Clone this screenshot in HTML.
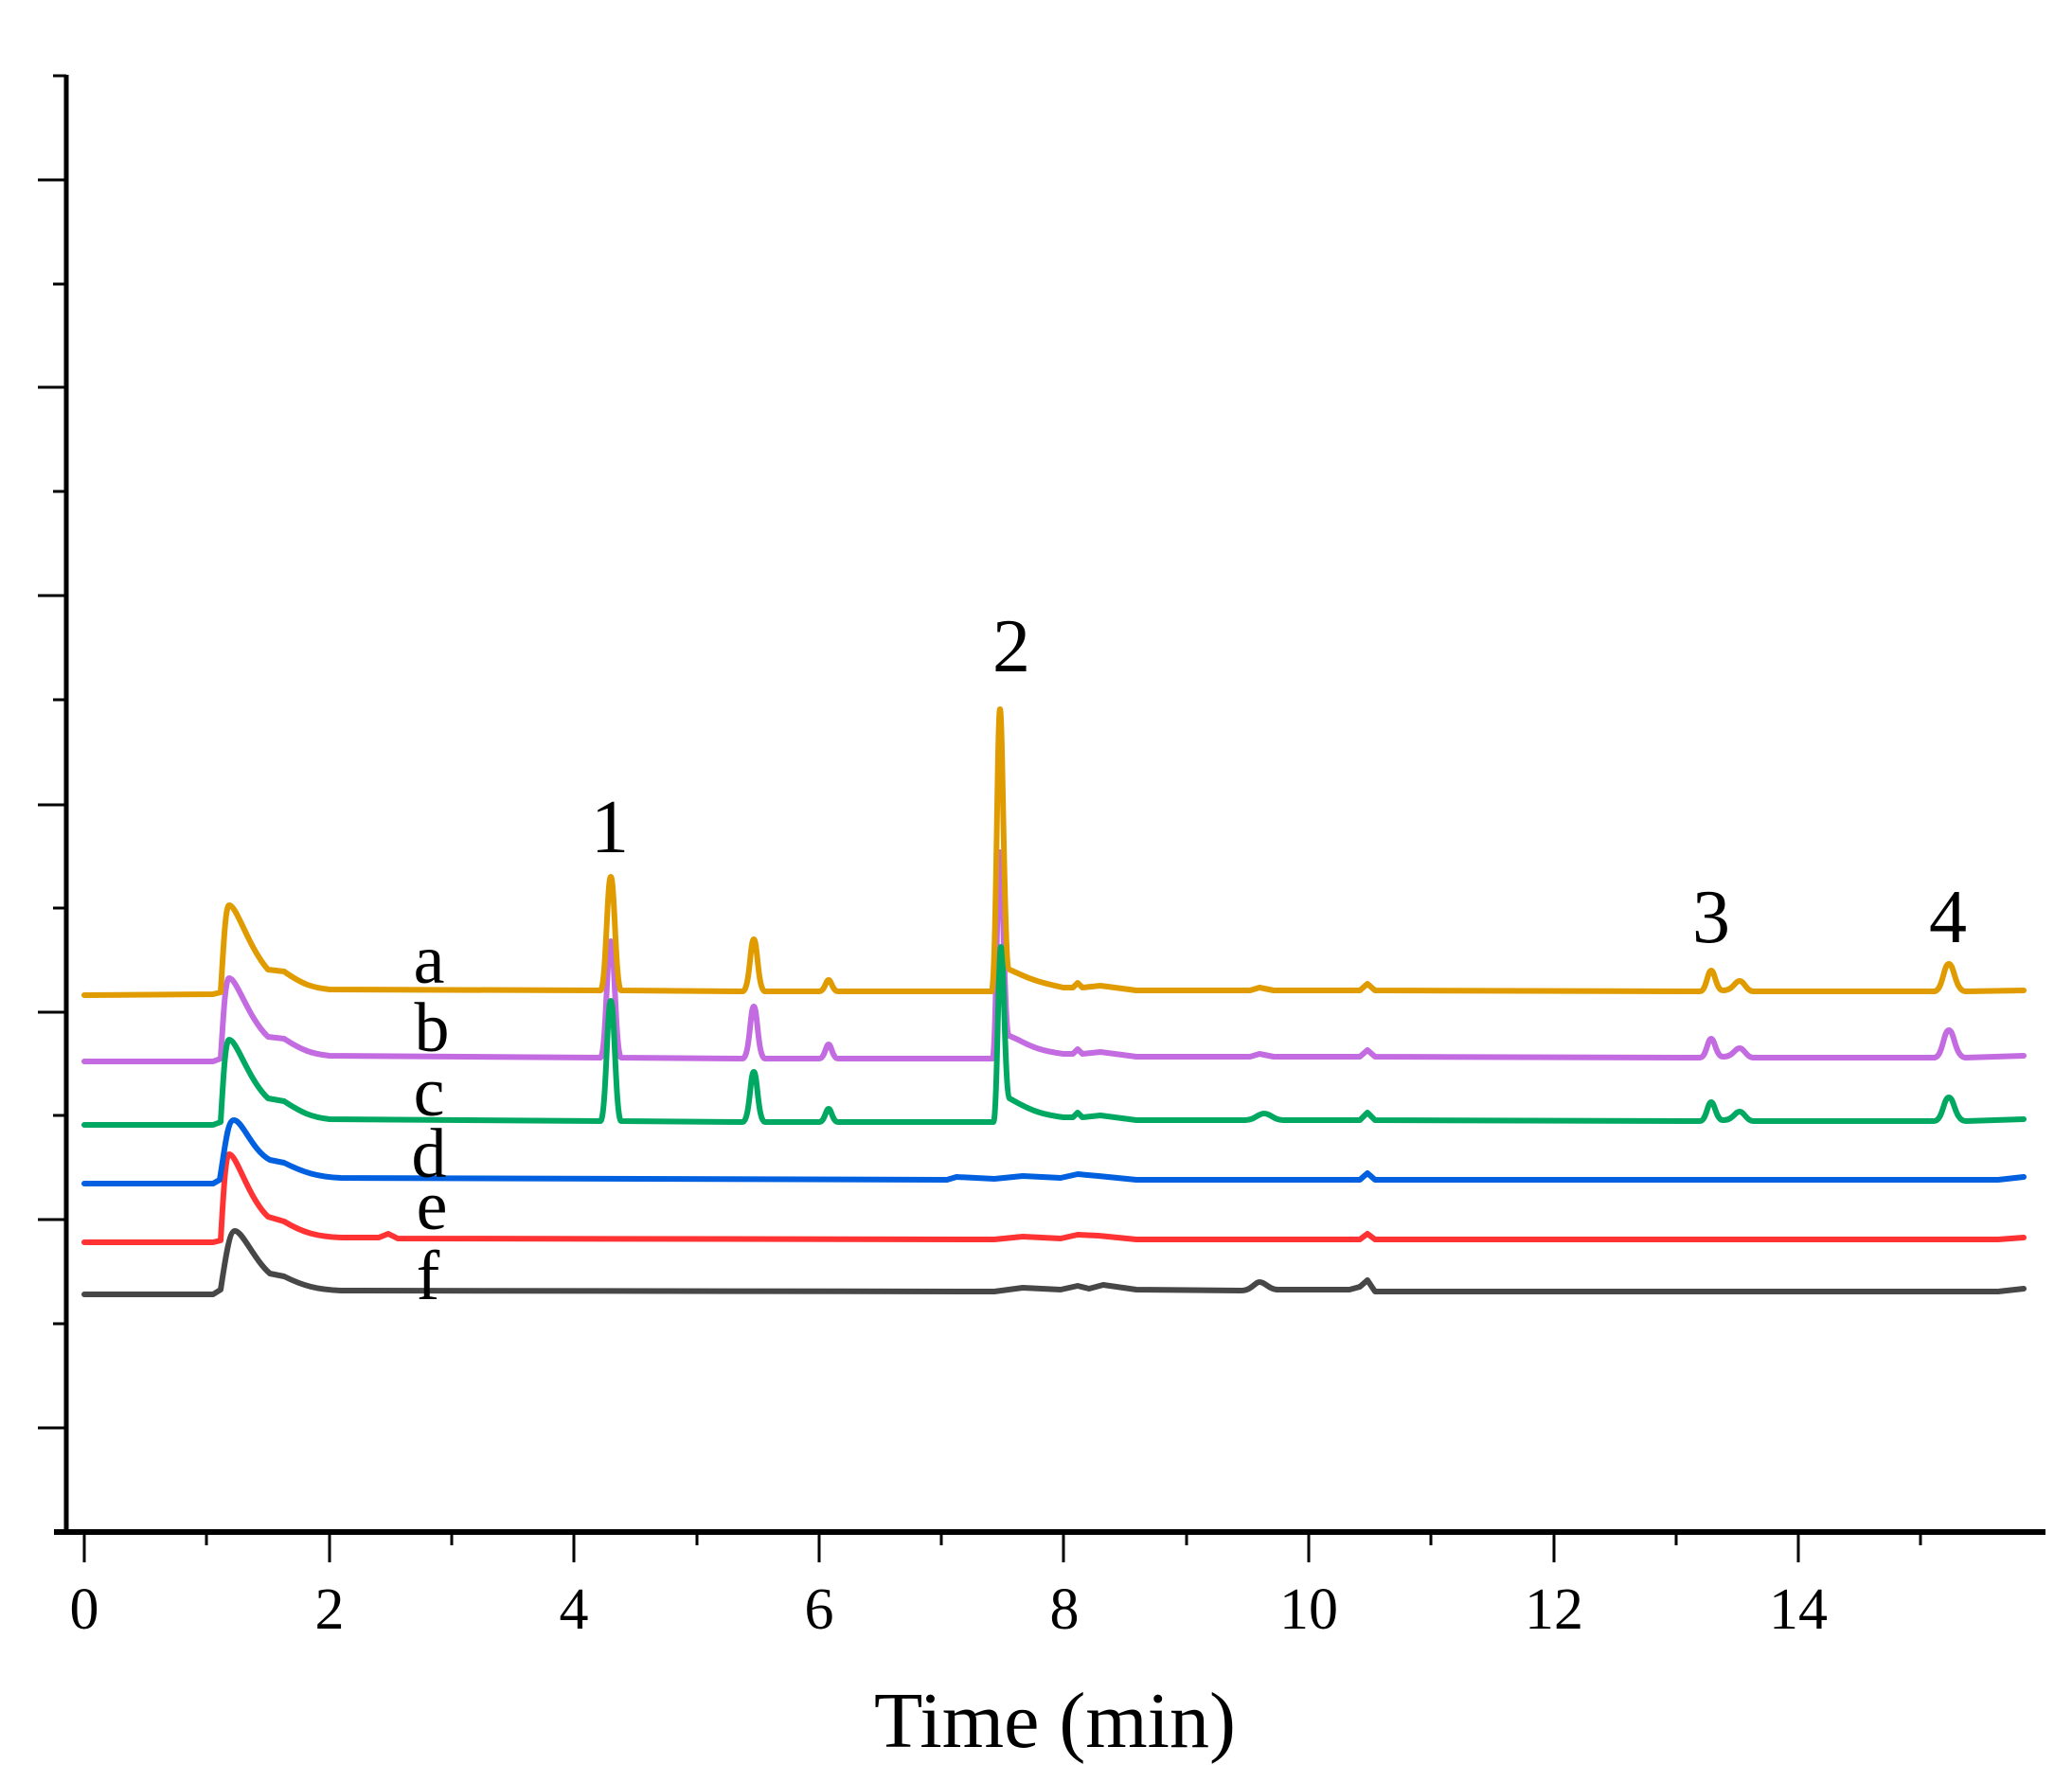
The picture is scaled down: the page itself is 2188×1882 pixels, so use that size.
<!DOCTYPE html>
<html><head><meta charset="utf-8"><style>
html,body{margin:0;padding:0;background:#fff;}
svg{display:block;}
text{font-family:"Liberation Serif",serif;fill:#000;}
</style></head><body>
<svg width="2188" height="1882" viewBox="0 0 2188 1882" xmlns="http://www.w3.org/2000/svg">
<rect width="2188" height="1882" fill="#fff"/>
<g stroke="#000" fill="none">
<line x1="70" y1="79" x2="70" y2="1620" stroke-width="5"/>
<line x1="57" y1="1618" x2="2160" y2="1618" stroke-width="6"/>
<g stroke-width="3">
<line x1="40" y1="190" x2="70" y2="190"/><line x1="40" y1="409" x2="70" y2="409"/>
<line x1="40" y1="629" x2="70" y2="629"/><line x1="40" y1="850" x2="70" y2="850"/>
<line x1="40" y1="1069" x2="70" y2="1069"/><line x1="40" y1="1288" x2="70" y2="1288"/>
<line x1="40" y1="1508" x2="70" y2="1508"/>
<line x1="56" y1="80" x2="70" y2="80"/><line x1="56" y1="300" x2="70" y2="300"/>
<line x1="56" y1="519" x2="70" y2="519"/><line x1="56" y1="739" x2="70" y2="739"/>
<line x1="56" y1="959" x2="70" y2="959"/><line x1="56" y1="1178" x2="70" y2="1178"/>
<line x1="56" y1="1398" x2="70" y2="1398"/>
<line x1="89" y1="1618" x2="89" y2="1650"/><line x1="218" y1="1618" x2="218" y2="1632"/>
<line x1="348" y1="1618" x2="348" y2="1650"/><line x1="477" y1="1618" x2="477" y2="1632"/>
<line x1="606" y1="1618" x2="606" y2="1650"/><line x1="736" y1="1618" x2="736" y2="1632"/>
<line x1="865" y1="1618" x2="865" y2="1650"/><line x1="994" y1="1618" x2="994" y2="1632"/>
<line x1="1123" y1="1618" x2="1123" y2="1650"/><line x1="1253" y1="1618" x2="1253" y2="1632"/>
<line x1="1382" y1="1618" x2="1382" y2="1650"/><line x1="1511" y1="1618" x2="1511" y2="1632"/>
<line x1="1641" y1="1618" x2="1641" y2="1650"/><line x1="1770" y1="1618" x2="1770" y2="1632"/>
<line x1="1899" y1="1618" x2="1899" y2="1650"/><line x1="2028" y1="1618" x2="2028" y2="1632"/>
</g>
</g>
<g fill="none" stroke-width="6" stroke-linejoin="round" stroke-linecap="round">
<path stroke="#474747" d="M89 1367 L225 1367 L233 1362 C238 1330 242 1300 248 1300 C256 1300 268 1330 285 1345 L300 1348 C320 1358 335 1362 360 1363 L1050 1364 L1080 1360 L1120 1362 L1138 1358 L1150 1361 L1165 1357 L1200 1362 L1310 1363 C1322 1363 1325 1354 1330 1354 C1336 1354 1340 1362 1350 1362 L1425 1362 L1436 1359 L1444 1352 L1452 1364 L1900 1364 L2110 1364 L2137 1361"/>
<path stroke="#FF3333" d="M89 1312 L225 1312 L233 1310 C236 1260 238 1219 242 1219 C250 1219 262 1265 283 1285 L300 1290 C320 1302 335 1306 360 1307 L400 1307 L410 1303 L420 1308 L1050 1309 L1080 1306 L1120 1308 L1138 1304 L1160 1305 L1200 1309 L1436 1309 L1444 1303 L1452 1309 L1900 1309 L2110 1309 L2137 1307"/>
<path stroke="#0060E0" d="M89 1250 L225 1250 L232 1246 C238 1210 240 1183 247 1183 C256 1183 266 1215 285 1225 L300 1228 C320 1238 335 1243 360 1244 L1000 1246 L1010 1243 L1050 1245 L1080 1242 L1120 1244 L1138 1240 L1160 1242 L1200 1246 L1436 1246 L1444 1239 L1452 1246 L2110 1246 L2137 1243"/>
<path stroke="#C36BE0" d="M89 1121 L225 1121 L233 1118 C236 1070 238 1033 242 1033 C250 1033 262 1075 283 1095 L300 1097 C320 1110 330 1113 348 1115 L634 1117 C640 1117 641 994 645 994 C649 994 650 1117 656 1117 L784 1118 C792 1118 792 1063 796 1063 C800 1063 800 1118 808 1118 L865 1118 C871 1118 872 1103 875 1103 C878 1103 879 1118 885 1118 L1048 1118 C1052 1118 1053 900 1056 900 C1059 900 1060 1090 1066 1094 L1075 1098 C1090 1106 1100 1110 1123 1113 L1133 1113 L1138 1108 L1143 1113 L1162 1111 L1200 1116 L1320 1116 L1330 1113 L1345 1116 L1436 1116 L1444 1109 L1452 1116 L1795 1117 C1802 1117 1803 1097 1807 1097 C1811 1097 1812 1117 1820 1116 C1830 1116 1832 1107 1837 1107 C1842 1107 1844 1117 1852 1117 L2042 1117 C2052 1117 2052 1088 2058 1088 C2064 1088 2064 1117 2076 1117 L2137 1115"/>
<path stroke="#00A862" d="M89 1188 L225 1188 L233 1185 C236 1135 238 1098 242 1098 C250 1098 262 1140 283 1160 L300 1163 C320 1176 330 1180 348 1182 L634 1184 C640 1184 641 1057 645 1057 C649 1057 650 1184 656 1184 L784 1185 C792 1185 792 1132 796 1132 C800 1132 800 1185 808 1185 L865 1185 C871 1185 872 1171 875 1171 C878 1171 879 1185 885 1185 L1049 1185 C1053 1185 1054 1000 1057 1000 C1060 1000 1061 1155 1066 1160 L1075 1165 C1090 1173 1100 1177 1123 1180 L1133 1180 L1138 1175 L1143 1180 L1162 1178 L1200 1183 L1315 1183 C1325 1183 1328 1176 1335 1176 C1342 1176 1345 1183 1355 1183 L1436 1183 L1444 1175 L1452 1183 L1795 1184 C1802 1184 1803 1164 1807 1164 C1811 1164 1812 1184 1820 1183 C1830 1183 1832 1174 1837 1174 C1842 1174 1844 1184 1852 1184 L2042 1184 C2052 1184 2052 1159 2058 1159 C2064 1159 2064 1184 2076 1184 L2137 1182"/>
<path stroke="#E09B00" d="M89 1051 L225 1050 L233 1048 C236 1000 238 956 242 956 C250 956 262 1000 283 1024 L300 1026 C320 1040 330 1043 348 1045 L634 1046 C640 1046 641 926 645 926 C649 926 650 1046 656 1046 L784 1047 C792 1047 792 992 796 992 C800 992 800 1047 808 1047 L865 1047 C871 1047 872 1035 875 1035 C878 1035 879 1047 885 1047 L1047 1047 C1052 1047 1053 749 1056 749 C1059 749 1060 1020 1066 1024 L1075 1028 C1090 1035 1100 1038 1123 1043 L1133 1043 L1138 1038 L1143 1043 L1162 1041 L1200 1046 L1320 1046 L1330 1043 L1345 1046 L1436 1046 L1444 1039 L1452 1046 L1795 1047 C1802 1047 1803 1025 1807 1025 C1811 1025 1812 1047 1820 1046 C1830 1046 1832 1036 1837 1036 C1842 1036 1844 1047 1852 1047 L2042 1047 C2052 1047 2052 1018 2058 1018 C2064 1018 2064 1047 2076 1047 L2137 1046"/>
</g>
<g font-size="62" text-anchor="middle">
<text x="89" y="1720">0</text><text x="348" y="1720">2</text><text x="606" y="1720">4</text>
<text x="865" y="1720">6</text><text x="1124" y="1720">8</text><text x="1382" y="1720">10</text>
<text x="1641" y="1720">12</text><text x="1899" y="1720">14</text>
</g>
<text x="1114" y="1845" font-size="84" text-anchor="middle">Time (min)</text>
<g font-size="74" text-anchor="middle">
<text x="453" y="1038">a</text><text x="456" y="1110">b</text><text x="453" y="1178">c</text>
<text x="453" y="1243">d</text><text x="456" y="1298">e</text><text x="452" y="1372">f</text>
</g>
<g font-size="80" text-anchor="middle">
<text x="644" y="900">1</text><text x="1068" y="709">2</text>
<text x="1807" y="995">3</text><text x="2057" y="995">4</text>
</g>
</svg>
</body></html>
